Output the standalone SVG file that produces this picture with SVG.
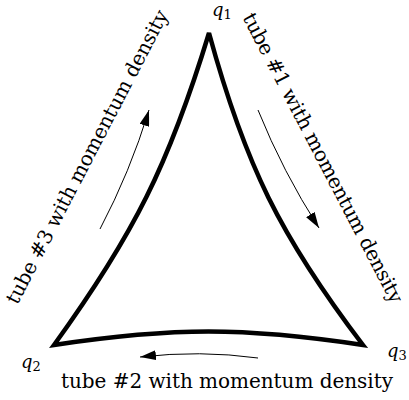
<svg xmlns="http://www.w3.org/2000/svg" width="409" height="400" viewBox="0 0 409 400">
  <style>
    .tube { fill: none; stroke: #000; stroke-width: 4.5; stroke-linejoin: miter; stroke-miterlimit: 3; }
    .flow { fill: none; stroke: #000; stroke-width: 1; }
  </style>
  <defs>
    <marker id="ah" viewBox="0 0 16 10" markerWidth="16" markerHeight="10" refX="16" refY="5" orient="auto" markerUnits="userSpaceOnUse">
      <path d="M0,0 L16,5 L0,10 Z" fill="#000"/>
    </marker>
  </defs>
  <rect width="409" height="400" fill="#fff"/>
  <g id="connectors">
    <path id="tubes" class="tube" d="M209,33 C244.9,164.5 280.5,236.6 363,345 C243.3,327.1 173.7,327.1 54,345 C134,234.6 169.3,163.5 209,33 Z"/>
    <path id="arrow1" class="flow" d="M258,110 Q283,172 319,228" marker-end="url(#ah)"/>
    <path id="arrow2" class="flow" d="M258,358 Q200,350 140,357" marker-end="url(#ah)"/>
    <path id="arrow3" class="flow" d="M100,229 Q130,172 149,110" marker-end="url(#ah)"/>
  </g>
  <g font-family="'DejaVu Serif', serif" fill="#000">
    <g id="q1"><text x="212" y="16" font-size="18" font-style="italic">q<tspan font-size="13" font-style="normal" dy="3">1</tspan></text></g>
    <g id="q2"><text x="21" y="368" font-size="18" font-style="italic">q<tspan font-size="13" font-style="normal" dy="3">2</tspan></text></g>
    <g id="q3"><text x="387" y="357" font-size="18" font-style="italic">q<tspan font-size="13" font-style="normal" dy="3">3</tspan></text></g>
    <g id="labels" font-size="20">
      <text x="61" y="388" textLength="332" lengthAdjust="spacing">tube #2 with momentum density</text>
      <text transform="translate(93,160) rotate(-62.5)" x="0" y="0" text-anchor="middle" textLength="328" lengthAdjust="spacing">tube #3 with momentum density</text>
      <text transform="translate(317,161) rotate(62.5)" x="0" y="0" text-anchor="middle" textLength="324" lengthAdjust="spacing">tube #1 with momentum density</text>
    </g>
  </g>
</svg>
